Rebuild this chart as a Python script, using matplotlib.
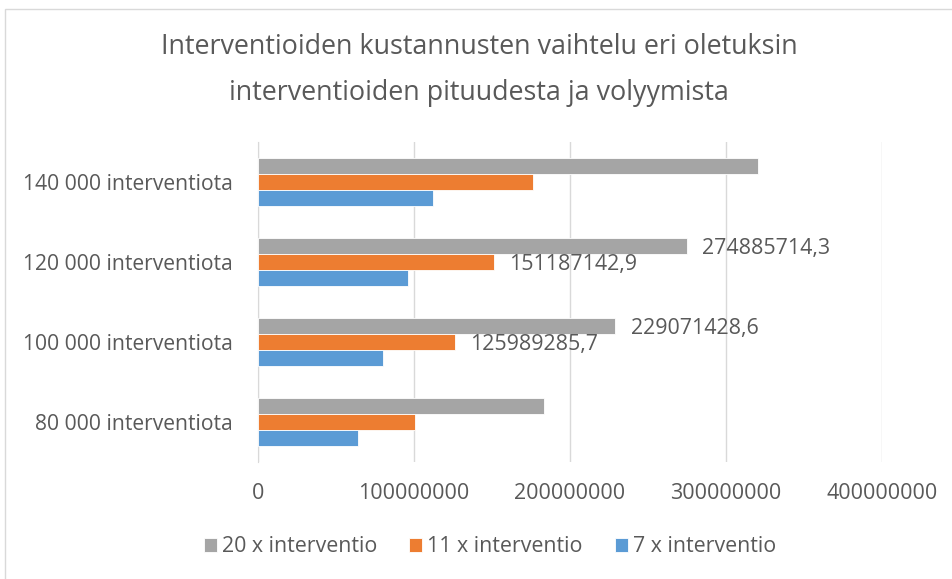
import matplotlib
matplotlib.use('Agg')
import matplotlib.pyplot as plt
import numpy as np
from matplotlib.patches import Rectangle

# kategoriat (alhaalta ylös)
categories = ["80 000 interventiota", "100 000 interventiota",
              "120 000 interventiota", "140 000 interventiota"]

# sarjat
series_names = ["20 x interventio", "11 x interventio", "7 x interventio"]
values_20x = [183257142.9, 229071428.6, 274885714.3, 320700000.0]
values_11x = [100791428.6, 125989285.7, 151187142.9, 176385000.0]
values_7x = [64140000.0, 80175000.0, 96210000.0, 112245000.0]

# datatunnisteet vain osalle pylväistä (kategoria-indeksi)
labelled_idx = [1, 2]

x_ticks = [0, 100000000, 200000000, 300000000, 400000000]

colors = ["#A5A5A5", "#ED7D31", "#5B9BD5"]
text_color = "#595959"


def main():
    plt.rcParams['font.family'] = ['Open Sans', 'DejaVu Sans']

    fig = plt.figure(figsize=(9.52, 5.79), dpi=100)
    ax = fig.add_axes([258 / 952, (579 - 462) / 579, 624 / 952, 320 / 579])

    # reunaviiva (vain ylä- ja vasen reuna näkyvät)
    fig.patches.append(Rectangle((5 / 952, -0.1), 1.2, (579 - 9.5) / 579 + 0.1,
                                 transform=fig.transFigure, fill=False,
                                 edgecolor="#D9D9D9", linewidth=1.0))

    y = np.arange(len(categories))
    h = 0.2
    all_values = [values_20x, values_11x, values_7x]
    offsets = [h, 0.0, -h]

    for vals, off, col, name in zip(all_values, offsets, colors, series_names):
        ax.barh(y + off, vals, height=h, color=col, edgecolor="white",
                linewidth=0.6, label=name, zorder=2)

    # datatunnisteet
    for vals, off in zip(all_values[:2], offsets[:2]):
        for i in labelled_idx:
            txt = f"{vals[i]:.1f}".replace(".", ",")
            ax.text(vals[i] + 10000000, y[i] + off - 0.035, txt, va="center",
                    ha="left", fontsize=15.4, color=text_color, zorder=3)

    ax.set_xlim(0, 400000000)
    ax.set_ylim(-0.5, 3.5)
    ax.set_xticks(x_ticks)
    ax.set_xticklabels([str(t) for t in x_ticks], fontsize=15.5, color=text_color)
    ax.set_yticks(y)
    ax.set_yticklabels(categories, fontsize=15.2, color=text_color)
    ax.tick_params(axis='both', length=0)
    ax.tick_params(axis='x', pad=15)
    ax.tick_params(axis='y', pad=18)

    ax.grid(axis='x', color="#D9D9D9", linewidth=1.0, zorder=0)
    ax.set_axisbelow(True)
    for side in ["top", "right", "bottom"]:
        ax.spines[side].set_visible(False)
    ax.spines["left"].set_color("#D9D9D9")
    ax.spines["left"].set_zorder(1)

    fig.text(479 / 952, 1 - 47 / 579, "Interventioiden kustannusten vaihtelu eri oletuksin",
             ha="center", va="center", fontsize=19.4, color=text_color)
    fig.text(479 / 952, 1 - 93 / 579, "interventioiden pituudesta ja volyymista",
             ha="center", va="center", fontsize=19.4, color=text_color)

    leg = fig.legend(loc="center", bbox_to_anchor=(490 / 952, 1 - 547 / 579),
                     ncol=3, frameon=False, fontsize=15.4, handlelength=0.6,
                     handleheight=0.6, handletextpad=0.25, columnspacing=1.5)
    for t in leg.get_texts():
        t.set_color(text_color)

    fig.savefig("out.png", dpi=100)


if __name__ == "__main__":
    main()
